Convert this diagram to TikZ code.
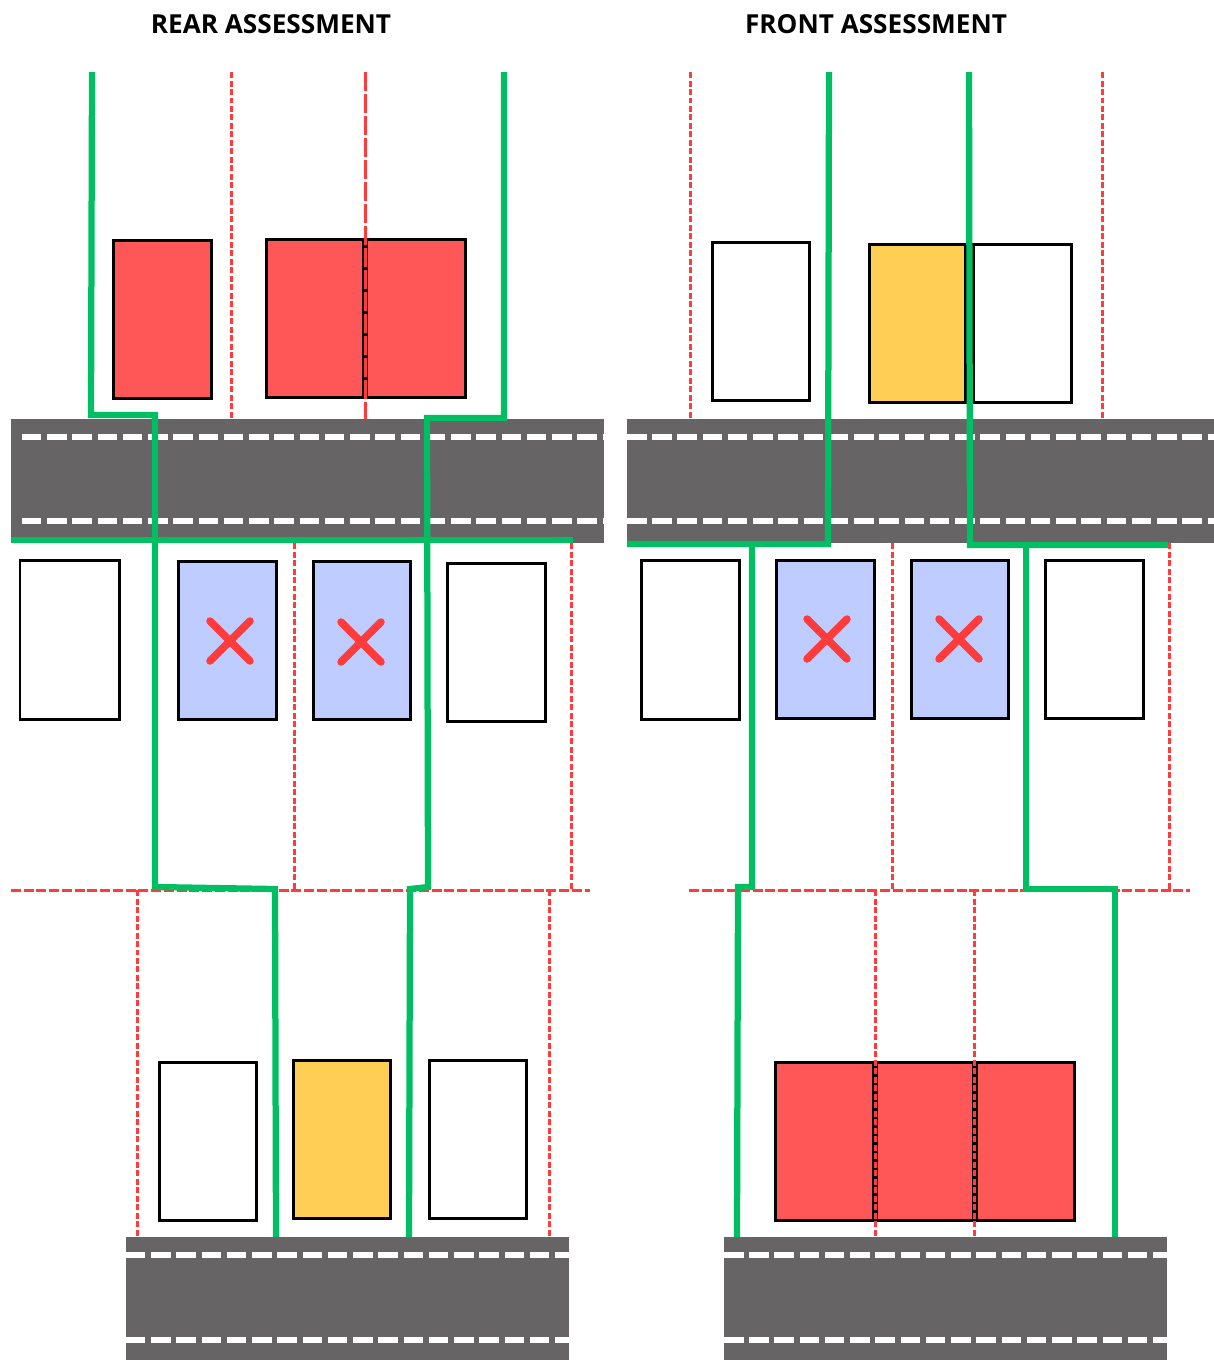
\documentclass[tikz,border=0pt]{standalone}
\usepackage{fontspec}
\setmainfont{Open Sans}
\usepackage{xcolor}
\usetikzlibrary{calc,positioning}
\definecolor{roadgray}{HTML}{666464}
\definecolor{pathgreen}{HTML}{00BF63}
\definecolor{laneRed}{HTML}{FF3B3B}
\definecolor{carRed}{HTML}{FF5757}
\definecolor{carYellow}{HTML}{FFCE54}
\definecolor{carBlue}{HTML}{BFCCFF}
\tikzset{
	road/.style={fill=roadgray, draw=none},
	laneline/.style={white, line width=0.125cm, dash pattern=on 0.39cm off 0.115cm},
	redline/.style={laneRed, line width=0.06cm, dash pattern=on 0.12cm off 0.05cm},
	redlong/.style={redline, dash pattern=on 0.38cm off 0.06cm},
	redwide/.style={redline, dash pattern=on 0.2cm off 0.055cm},
	greenpath/.style={pathgreen, line width=0.125cm, line join=miter},
	car/.style={draw=black, line width=0.06cm},
	crossline/.style={laneRed, line width=0.15cm, line cap=round},
	heading/.style={font=\bfseries\fontsize{14.9}{17}\selectfont, text=black, inner sep=0pt}
}
\newcommand{\roadstrip}[6]{
	\fill[road] (#1, #3) rectangle (#2, #4);
	\draw[laneline] (#5, #3+18) -- (#2, #3+18);
	\draw[laneline] (#5, #3+#6) -- (#2, #3+#6);
	}
\newcommand{\carbox}[3]{
	\draw[car, fill=#3] #1 rectangle ($#2+(-0.7,-0.7)$);
	}
\newcommand{\crossmark}[2]{
	\draw[crossline] (#1-20, #2-20) -- (#1+20, #2+20);
	\draw[crossline] (#1-20, #2+20) -- (#1+20, #2-20);
	}

\begin{document}
\begin{tikzpicture}[x=0.02cm, y=-0.02cm]
	\useasboundingbox (0,0) rectangle (1214,1360);

	% titles
	\node[heading] (reartitle) at (271,24) {REAR ASSESSMENT};
	\node[heading] (fronttitle) at (876,24) {FRONT ASSESSMENT};

	% roads
	\roadstrip{11}{604}{419}{543}{22}{102}
	\roadstrip{627}{1214}{419}{543}{627}{102}
	\roadstrip{126}{569}{1237}{1360}{126}{103}
	\roadstrip{724}{1167}{1237}{1360}{724}{103}

	% rear assessment cars
	\carbox{(113,240)}{(212,399)}{carRed}
	\carbox{(266,239)}{(364.5,398)}{carRed}
	\carbox{(366,239)}{(466,398)}{carRed}
	\carbox{(20,560)}{(120,720)}{white}
	\carbox{(178,561)}{(277,720)}{carBlue}
	\carbox{(313,561)}{(411,720)}{carBlue}
	\carbox{(447,563)}{(546,722)}{white}
	\carbox{(159,1062)}{(257,1221)}{white}
	\carbox{(293,1060)}{(391,1219)}{carYellow}
	\carbox{(429,1060)}{(527,1219)}{white}

	% front assessment cars
	\carbox{(712,242)}{(810,401)}{white}
	\carbox{(869,244)}{(966,403)}{carYellow}
	\carbox{(973,244)}{(1072,403)}{white}
	\carbox{(641,560)}{(740,720)}{white}
	\carbox{(776,560)}{(875,719)}{carBlue}
	\carbox{(911,560)}{(1009,719)}{carBlue}
	\carbox{(1045,560)}{(1144,719)}{white}
	\carbox{(775,1062)}{(874,1221)}{carRed}
	\carbox{(876,1062)}{(974,1221)}{carRed}
	\carbox{(976,1062)}{(1075,1221)}{carRed}

	% red lanes
	\foreach \xa in {231,690,1102}
		\draw[redline] (\xa,72) -- (\xa,419);
	\draw[redlong] (365,72) -- (365,419);
	\foreach \xa in {294,571,892,1169}
		\draw[redline] (\xa,543) -- (\xa,890);
	\foreach \xa in {137,549,875,974}
		\draw[redline] (\xa,890) -- (\xa,1237);
	\draw[redwide] (11,890) -- (590,890);
	\draw[redwide] (689,890) -- (1190,890);

	% green paths
	\draw[greenpath] (92,72) -- (91,415) -- (155,415) -- (155,887) -- (275,889) -- (276,1237);
	\draw[greenpath] (504,72) -- (504,418) -- (427,418) -- (428,887) -- (410,889) -- (409,1237);
	\draw[greenpath] (11,540) -- (573,540);
	\draw[greenpath] (829,72) -- (828,544) -- (627,544);
	\draw[greenpath] (752,544) -- (752,887) -- (738,887) -- (737,1237);
	\draw[greenpath] (969,72) -- (970,545) -- (1168,545);
	\draw[greenpath] (1026,545) -- (1026,889) -- (1115,889) -- (1115,1237);

	% crosses
	\crossmark{230}{641}
	\crossmark{361}{642}
	\crossmark{827}{639}
	\crossmark{959}{639}

\end{tikzpicture}
\end{document}
